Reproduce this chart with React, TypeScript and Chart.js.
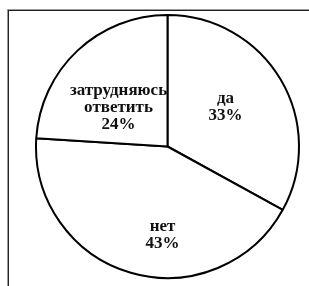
import React, { useEffect, useRef } from "react";
import { Chart, registerables } from "chart.js";

Chart.register(...registerables);

const categories: string[][] = [["да"], ["нет"], ["затрудняюсь", "ответить"]];
const values: number[] = [33, 43, 24];
const percentLabels: string[] = ["33%", "43%", "24%"];

// label placement: radial fraction and angle offset (radians) relative to slice middle
const labelPlacement = [
  { frac: 0.534, dAngle: -0.065 },
  { frac: 0.674, dAngle: -0.227 },
  { frac: 0.474, dAngle: -0.15 },
];

const labelPlugin = {
  id: "sliceLabels",
  afterDatasetsDraw(chart: any) {
    const ctx = chart.ctx;
    const meta = chart.getDatasetMeta(0);
    ctx.save();
    ctx.fillStyle = "#111";
    ctx.font = 'bold 17px "Liberation Serif", "Times New Roman", serif';
    ctx.textAlign = "center";
    ctx.textBaseline = "middle";
    const lineH = 17;
    meta.data.forEach((arc: any, i: number) => {
      const { x, y, startAngle, endAngle, outerRadius } = arc.getProps(
        ["x", "y", "startAngle", "endAngle", "outerRadius"],
        true
      );
      const p = labelPlacement[i];
      const mid = (startAngle + endAngle) / 2 + p.dAngle;
      const cx = x + Math.cos(mid) * outerRadius * p.frac;
      const cy = y + Math.sin(mid) * outerRadius * p.frac;
      const lines = [...categories[i], percentLabels[i]];
      const top = cy - ((lines.length - 1) * lineH) / 2;
      lines.forEach((t, k) => ctx.fillText(t, cx, top + k * lineH));
    });
    ctx.restore();
  },
};

export default function App() {
  const ref = useRef<HTMLCanvasElement | null>(null);
  useEffect(() => {
    if (!ref.current) return;
    const chart = new Chart(ref.current, {
      type: "pie",
      data: {
        labels: categories.map((c) => c.join(" ")),
        datasets: [
          {
            data: values,
            backgroundColor: "#ffffff",
            borderColor: "#000000",
            borderWidth: 2,
            borderAlign: "center",
          },
        ],
      },
      options: {
        responsive: false,
        animation: false,
        events: [],
        layout: { padding: { left: 35, right: 9, top: 14, bottom: 7 } },
        plugins: {
          legend: { display: false },
          tooltip: { enabled: false },
          title: { display: false },
        },
      },
      plugins: [labelPlugin],
    });
    return () => chart.destroy();
  }, []);
  return (
    <div style={{ position: "fixed", left: 0, top: 0, width: 309, height: 286, overflow: "hidden", background: "#fff" }}>
      <div
        style={{
          position: "absolute",
          left: 8,
          top: 10,
          width: 340,
          height: 320,
          border: "1px solid #222",
          boxShadow: "0 0 0 1px #999",
        }}
      />
      <canvas ref={ref} width={309} height={286} style={{ position: "absolute", left: 0, top: 0 }} />
    </div>
  );
}
